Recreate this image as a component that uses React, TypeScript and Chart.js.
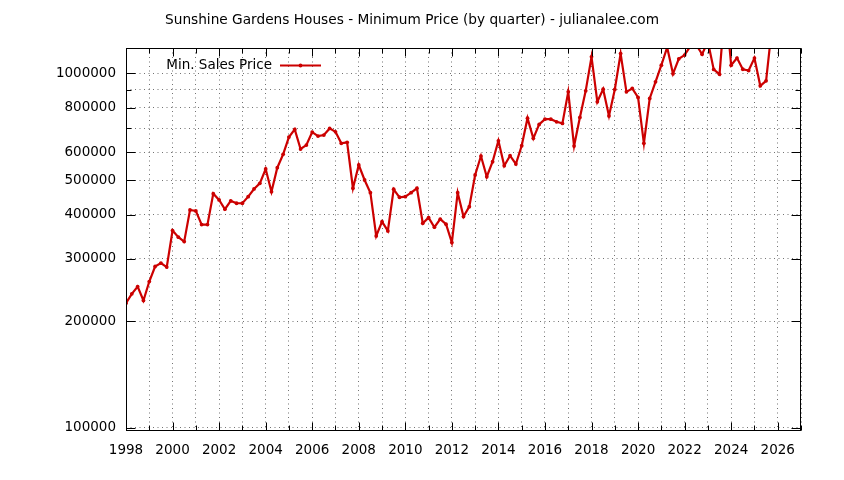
import { useEffect, useRef } from 'react';
import { Chart, registerables, Plugin } from 'chart.js';

Chart.register(...registerables);

const FONT = '"DejaVu Sans", sans-serif';
const TITLE = 'Sunshine Gardens Houses - Minimum Price (by quarter) - julianalee.com';
const SERIES_LABEL = 'Min. Sales Price';
const LINE_COLOR = '#cc0000';

// first quarter of the series, one value per quarter after that
const startYear = 1998;
const minPrices = [
  224900, 238900, 250500, 228800, // 1998
  258800, 285300, 291600, 284200, // 1999
  360300, 345200, 335500, 412000, // 2000
  409400, 374600, 374600, 458000, // 2001
  439700, 414000, 436900, 430400, // 2002
  430400, 449200, 472200, 489900, // 2003
  537600, 463900, 542200, 591400, // 2004
  661500, 695300, 612100, 628100, // 2005
  683200, 665800, 670100, 699800, // 2006
  684600, 635100, 639200, 474400, // 2007
  551800, 500600, 460900, 348100, // 2008
  381900, 359600, 471300, 447400, // 2009
  449200, 460900, 474400, 377900, // 2010
  392000, 368300, 388000, 375500, // 2011
  333300, 460900, 394600, 421000, // 2012
  517000, 584800, 511300, 563600, // 2013
  645800, 549300, 586000, 555400, // 2014
  625300, 748000, 656100, 718200, // 2015
  743300, 743300, 730500, 722900, // 2016
  887500, 624000, 751500, 893300, // 2017
  1114000, 831800, 903200, 759200, // 2018
  901400, 1138000, 887500, 907400, // 2019
  855900, 635100, 850500, 947000, // 2020
  1055000, 1185000, 998000, 1100000, // 2021
  1127000, 1195000, 1205000, 1133000, // 2022
  1230000, 1027000, 995000, 1600000, // 2023
  1055000, 1105000, 1028000, 1019000, // 2024
  1105000, 922800, 953200, 1350000, // 2025
];

const xMin = 1998;
const xMax = 2027;
const yMin = 98000;
const yMax = 1180000;
const yTickValues = [100000, 200000, 300000, 400000, 500000, 600000, 700000, 800000, 900000, 1000000];
const yUnlabelled = [700000, 900000];

const framePlugin: Plugin<'line'> = {
  id: 'gnuplotFrame',
  afterDraw(chart) {
    const { ctx, chartArea: a, scales } = chart;
    const xs = scales.x;
    const ys = scales.y;
    ctx.save();
    ctx.strokeStyle = '#000';
    ctx.lineWidth = 1;
    ctx.setLineDash([]);
    const L = Math.round(a.left) + 0.5;
    const R = Math.round(a.right) - 0.5;
    const T = Math.round(a.top) + 0.5;
    const B = Math.round(a.bottom) - 0.5;
    ctx.strokeRect(L, T, R - L, B - T);

    ctx.beginPath();
    for (let yr = xMin; yr <= xMax; yr++) {
      const px = Math.round(xs.getPixelForValue(yr)) + 0.5;
      const len = yr % 2 === 0 ? 8 : 5;
      ctx.moveTo(px, B);
      ctx.lineTo(px, B - len);
      ctx.moveTo(px, T);
      ctx.lineTo(px, T + len);
    }
    yTickValues.forEach((v) => {
      const py = Math.round(ys.getPixelForValue(v)) + 0.5;
      const len = yUnlabelled.includes(v) ? 5 : 9;
      ctx.moveTo(L, py);
      ctx.lineTo(L + len, py);
      ctx.moveTo(R, py);
      ctx.lineTo(R - len, py);
    });
    ctx.stroke();

    // title
    ctx.fillStyle = '#000';
    ctx.font = `13.7px ${FONT}`;
    ctx.textAlign = 'center';
    ctx.textBaseline = 'middle';
    ctx.fillText(TITLE, 412, 20);

    // key, text first then the sample
    ctx.font = `13.5px ${FONT}`;
    ctx.textAlign = 'right';
    ctx.fillText(SERIES_LABEL, 272, 65);
    ctx.strokeStyle = LINE_COLOR;
    ctx.lineWidth = 2.2;
    ctx.beginPath();
    ctx.moveTo(280, 65.5);
    ctx.lineTo(321, 65.5);
    ctx.stroke();
    ctx.fillStyle = LINE_COLOR;
    ctx.beginPath();
    ctx.arc(300.5, 65.5, 1.9, 0, Math.PI * 2);
    ctx.fill();
    ctx.restore();
  },
};

const App = () => {
  const canvasRef = useRef<HTMLCanvasElement | null>(null);
  const chartRef = useRef<Chart<'line'> | null>(null);

  useEffect(() => {
    document.body.style.margin = '0';
    const ctx = canvasRef.current?.getContext('2d');
    if (!ctx) return;
    if (chartRef.current) chartRef.current.destroy();

    const points = minPrices.map((v, i) => ({ x: startYear + i / 4, y: v }));

    chartRef.current = new Chart(ctx, {
      type: 'line',
      data: {
        datasets: [
          {
            label: SERIES_LABEL,
            data: points,
            borderColor: LINE_COLOR,
            backgroundColor: LINE_COLOR,
            borderWidth: 2.2,
            pointRadius: 1.9,
            pointHoverRadius: 1.9,
            pointBorderWidth: 0,
            tension: 0,
          },
        ],
      },
      options: {
        animation: false,
        responsive: true,
        maintainAspectRatio: false,
        events: [],
        layout: { padding: { top: 48, right: 43, left: 0, bottom: 0 } },
        plugins: {
          legend: { display: false },
          title: { display: false },
          tooltip: { enabled: false },
        },
        scales: {
          x: {
            type: 'linear',
            min: xMin,
            max: xMax,
            afterFit: (s) => {
              s.height = 49;
            },
            ticks: {
              stepSize: 1,
              autoSkip: false,
              maxRotation: 0,
              padding: 11,
              color: '#000',
              font: { family: FONT, size: 13.5 },
              callback: (v) => (Number(v) % 2 === 0 && Number(v) < xMax ? String(v) : ''),
            },
            grid: { color: 'rgba(0,0,0,0.55)', lineWidth: 1, drawTicks: false },
            border: { display: false, dash: [1, 3.5] },
          },
          y: {
            type: 'logarithmic',
            min: yMin,
            max: yMax,
            afterFit: (s) => {
              s.width = 126;
            },
            afterBuildTicks: (s) => {
              s.ticks = yTickValues.map((v) => ({ value: v }));
            },
            ticks: {
              autoSkip: false,
              padding: 10,
              color: '#000',
              font: { family: FONT, size: 13.5 },
              callback: (v) => (yUnlabelled.includes(Number(v)) ? '' : String(v)),
            },
            grid: { color: 'rgba(0,0,0,0.55)', lineWidth: 1, drawTicks: false },
            border: { display: false, dash: [1, 3.5] },
          },
        },
      },
      plugins: [framePlugin],
    });

    return () => {
      chartRef.current?.destroy();
      chartRef.current = null;
    };
  }, []);

  return (
    <div style={{ width: 844, height: 480, position: 'relative', background: '#fff' }}>
      <canvas ref={canvasRef} />
    </div>
  );
};

export default App;
